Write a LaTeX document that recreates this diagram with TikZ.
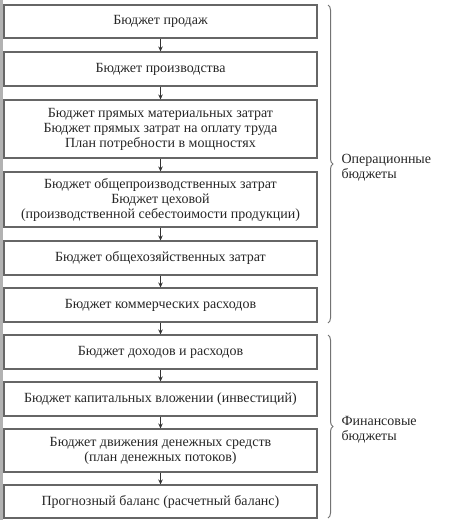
\documentclass[tikz,border=0pt]{standalone}
\usepackage{fontspec}
\setmainfont{Liberation Serif}
\usetikzlibrary{arrows.meta , decorations.pathreplacing}

\begin{document}
\begin{tikzpicture}[x = 1pt , y = -1pt ,
    blok/.style = {draw = black!60 , line width = 1.1pt , minimum width = 313pt , align = center , inner sep = 0pt , text = black!85 , font = \fontsize{14}{15}\selectfont},
    strelka/.style = {black!80 , line width = 0.8pt , -{Stealth[length = 5pt , width = 4.5pt]}},
    skobka/.style = {black!55 , line width = 1pt , decorate , decoration = {brace , amplitude = 5pt}},
    podpis/.style = {anchor = west , align = left , inner sep = 0pt , text = black!85 , font = \fontsize{14}{15}\selectfont}]
    \useasboundingbox (0,0) rectangle (471,520);
    \fill[black!30] (0,0) rectangle (3,520); % полоса слева
    % операционные бюджеты
    \node[blok , minimum height = 33pt] (prodazhi) at (160.5,21.5) {Бюджет продаж};
    \node[blok , minimum height = 34pt] (proizv) at (160.5,69) {Бюджет производства};
    \node[blok , minimum height = 58pt] (pryamye) at (160.5,129) {Бюджет прямых материальных затрат\\Бюджет прямых затрат на оплату труда\\План потребности в мощностях};
    \node[blok , minimum height = 55pt] (obshchepr) at (160.5,199.5) {Бюджет общепроизводственных затрат\\Бюджет цеховой\\(производственной себестоимости продукции)};
    \node[blok , minimum height = 34pt] (obshchekh) at (160.5,258) {Бюджет общехозяйственных затрат};
    \node[blok , minimum height = 34pt] (kommerch) at (160.5,305) {Бюджет коммерческих расходов};
    % финансовые бюджеты
    \node[blok , minimum height = 34pt] (dohody) at (160.5,352) {Бюджет доходов и расходов};
    \node[blok , minimum height = 34pt] (kapital) at (160.5,399) {Бюджет капитальных вложении (инвестиций)};
    \node[blok , minimum height = 43pt] (dengi) at (160.5,450.5) {Бюджет движения денежных средств\\(план денежных потоков)};
    \node[blok , minimum height = 33pt] (balans) at (160.5,501.5) {Прогнозный баланс (расчетный баланс)};
    \foreach \a/\b in {prodazhi/proizv,proizv/pryamye,pryamye/obshchepr,obshchepr/obshchekh,obshchekh/kommerch,kommerch/dohody,dohody/kapital,kapital/dengi,dengi/balans}
        \draw[strelka] (\a) -- (\b);
    % скобки
    \draw[skobka] (328,5) -- (328,323) node[midway , xshift = 13pt , yshift = -4pt , podpis] (oper) {Операционные\\бюджеты};
    \draw[skobka] (328,335) -- (328,518) node[midway , xshift = 13pt , yshift = -3pt , podpis] (fin) {Финансовые\\бюджеты};
\end{tikzpicture}
\end{document}
